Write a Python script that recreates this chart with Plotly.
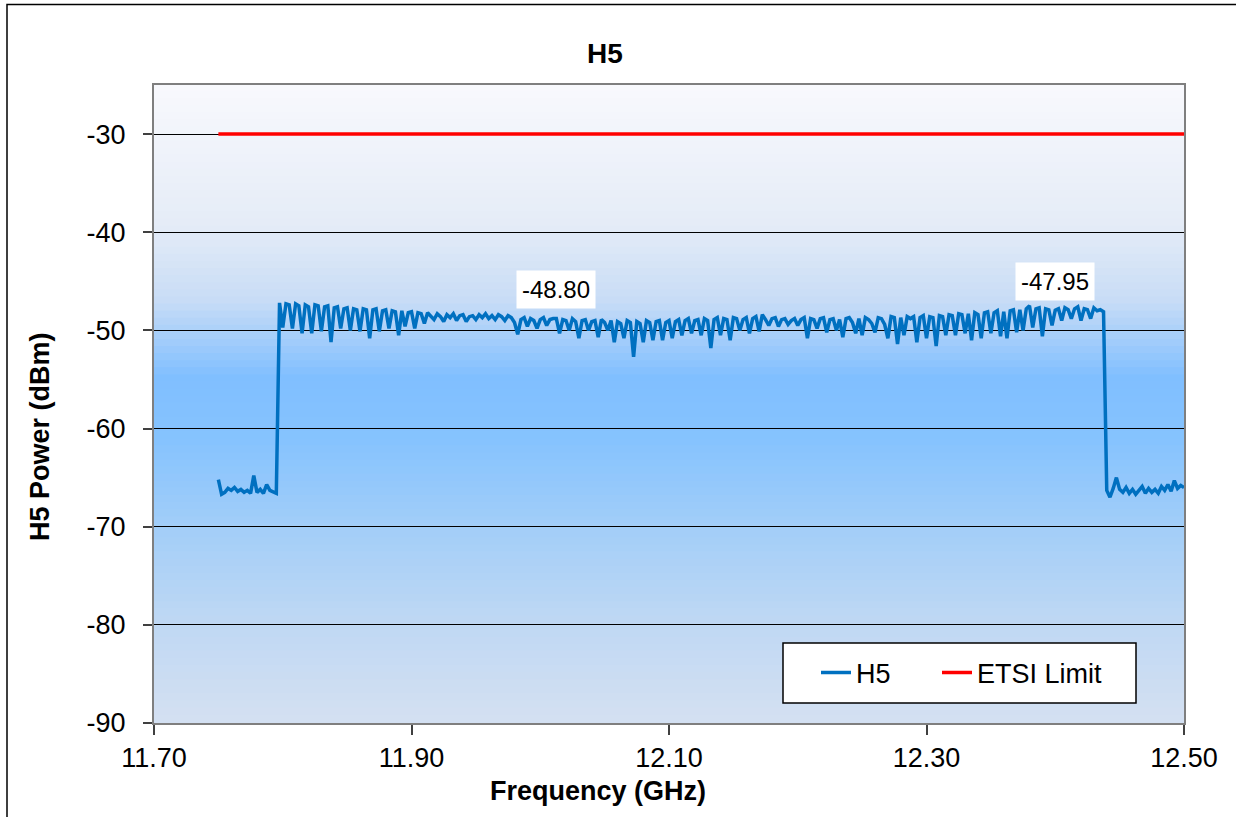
import plotly.graph_objects as go

# Sweep frequencies (GHz)
freq_ghz = [
    11.7500, 11.7525, 11.7550, 11.7575, 11.7600, 11.7625, 11.7650, 11.7675,
    11.7700, 11.7725, 11.7750, 11.7775, 11.7800, 11.7825, 11.7850, 11.7875,
    11.7900, 11.7925, 11.7950, 11.7975, 11.8000, 11.8025, 11.8050, 11.8075,
    11.8100, 11.8125, 11.8150, 11.8175, 11.8200, 11.8225, 11.8250, 11.8275,
    11.8300, 11.8325, 11.8350, 11.8375, 11.8400, 11.8425, 11.8450, 11.8475,
    11.8500, 11.8525, 11.8550, 11.8575, 11.8600, 11.8625, 11.8650, 11.8675,
    11.8700, 11.8725, 11.8750, 11.8775, 11.8800, 11.8825, 11.8850, 11.8875,
    11.8900, 11.8925, 11.8950, 11.8975, 11.9000, 11.9025, 11.9050, 11.9075,
    11.9100, 11.9125, 11.9150, 11.9175, 11.9200, 11.9225, 11.9250, 11.9275,
    11.9300, 11.9325, 11.9350, 11.9375, 11.9400, 11.9425, 11.9450, 11.9475,
    11.9500, 11.9525, 11.9550, 11.9575, 11.9600, 11.9625, 11.9650, 11.9675,
    11.9700, 11.9725, 11.9750, 11.9775, 11.9800, 11.9825, 11.9850, 11.9875,
    11.9900, 11.9925, 11.9950, 11.9975, 12.0000, 12.0025, 12.0050, 12.0075,
    12.0100, 12.0125, 12.0150, 12.0175, 12.0200, 12.0225, 12.0250, 12.0275,
    12.0300, 12.0325, 12.0350, 12.0375, 12.0400, 12.0425, 12.0450, 12.0475,
    12.0500, 12.0525, 12.0550, 12.0575, 12.0600, 12.0625, 12.0650, 12.0675,
    12.0700, 12.0725, 12.0750, 12.0775, 12.0800, 12.0825, 12.0850, 12.0875,
    12.0900, 12.0925, 12.0950, 12.0975, 12.1000, 12.1025, 12.1050, 12.1075,
    12.1100, 12.1125, 12.1150, 12.1175, 12.1200, 12.1225, 12.1250, 12.1275,
    12.1300, 12.1325, 12.1350, 12.1375, 12.1400, 12.1425, 12.1450, 12.1475,
    12.1500, 12.1525, 12.1550, 12.1575, 12.1600, 12.1625, 12.1650, 12.1675,
    12.1700, 12.1725, 12.1750, 12.1775, 12.1800, 12.1825, 12.1850, 12.1875,
    12.1900, 12.1925, 12.1950, 12.1975, 12.2000, 12.2025, 12.2050, 12.2075,
    12.2100, 12.2125, 12.2150, 12.2175, 12.2200, 12.2225, 12.2250, 12.2275,
    12.2300, 12.2325, 12.2350, 12.2375, 12.2400, 12.2425, 12.2450, 12.2475,
    12.2500, 12.2525, 12.2550, 12.2575, 12.2600, 12.2625, 12.2650, 12.2675,
    12.2700, 12.2725, 12.2750, 12.2775, 12.2800, 12.2825, 12.2850, 12.2875,
    12.2900, 12.2925, 12.2950, 12.2975, 12.3000, 12.3025, 12.3050, 12.3075,
    12.3100, 12.3125, 12.3150, 12.3175, 12.3200, 12.3225, 12.3250, 12.3275,
    12.3300, 12.3325, 12.3350, 12.3375, 12.3400, 12.3425, 12.3450, 12.3475,
    12.3500, 12.3525, 12.3550, 12.3575, 12.3600, 12.3625, 12.3650, 12.3675,
    12.3700, 12.3725, 12.3750, 12.3775, 12.3800, 12.3825, 12.3850, 12.3875,
    12.3900, 12.3925, 12.3950, 12.3975, 12.4000, 12.4025, 12.4050, 12.4075,
    12.4100, 12.4125, 12.4150, 12.4175, 12.4200, 12.4225, 12.4250, 12.4275,
    12.4300, 12.4325, 12.4350, 12.4375, 12.4400, 12.4425, 12.4450, 12.4475,
    12.4500, 12.4525, 12.4550, 12.4575, 12.4600, 12.4625, 12.4650, 12.4675,
    12.4700, 12.4725, 12.4750, 12.4775, 12.4800, 12.4825, 12.4850, 12.4875,
    12.4900, 12.4925, 12.4950, 12.4975, 12.5000,
]

h5_dbm = [
    -65.2, -66.7, -66.5, -66.1, -66.3, -66.0, -66.4, -66.2,
    -66.5, -66.3, -66.6, -64.8, -66.5, -66.2, -66.6, -65.7,
    -66.3, -66.5, -66.6, -47.2, -49.7, -47.3, -47.4, -49.8,
    -47.3, -47.5, -50.3, -47.4, -47.6, -50.3, -47.4, -47.5,
    -50.1, -47.6, -47.5, -51.2, -47.7, -47.6, -49.8, -47.8,
    -47.7, -50.0, -47.8, -47.9, -50.1, -47.8, -47.9, -50.8,
    -47.9, -47.8, -50.1, -48.0, -47.9, -49.8, -48.0, -48.1,
    -50.5, -48.0, -49.6, -48.2, -48.1, -49.8, -48.2, -48.3,
    -49.3, -48.2, -48.5, -48.9, -48.3, -48.6, -49.1, -48.4,
    -48.7, -48.3, -49.0, -48.5, -48.4, -49.1, -48.6, -48.5,
    -48.9, -48.4, -48.7, -48.3, -48.8, -48.5, -48.9, -48.4,
    -48.6, -49.0, -48.5, -48.7, -49.2, -50.4, -48.9, -48.7,
    -49.6, -48.8, -49.0, -49.8, -48.9, -48.7, -49.5, -48.9,
    -48.8, -48.8, -50.3, -48.9, -49.0, -50.0, -48.8, -49.1,
    -50.8, -49.0, -48.9, -50.0, -49.1, -49.0, -50.7, -48.9,
    -49.2, -50.0, -49.0, -51.2, -49.1, -49.3, -50.8, -49.0,
    -49.2, -52.7, -49.1, -49.3, -51.2, -49.0, -49.2, -51.0,
    -49.1, -49.0, -51.0, -49.2, -49.0, -50.8, -49.1, -48.9,
    -50.5, -49.0, -48.8, -50.3, -49.0, -48.9, -50.5, -48.8,
    -49.0, -51.8, -48.9, -48.7, -50.5, -48.8, -48.9, -51.0,
    -48.7, -48.8, -50.0, -48.9, -48.7, -50.3, -48.8, -48.6,
    -50.1, -48.4, -48.9, -49.5, -48.8, -48.7, -49.6, -48.9,
    -48.8, -49.4, -49.0, -48.8, -49.5, -48.9, -48.7, -50.8,
    -48.8, -48.9, -49.8, -48.8, -48.7, -50.2, -48.9, -48.8,
    -50.0, -48.9, -50.7, -48.8, -48.7, -49.2, -50.3, -48.8,
    -50.5, -48.7, -48.9, -49.3, -50.2, -48.7, -48.8, -49.4,
    -50.8, -48.6, -48.7, -51.4, -48.7, -50.5, -48.6, -48.8,
    -48.6, -51.2, -48.7, -48.5, -50.8, -48.6, -48.7, -51.6,
    -48.5, -48.6, -50.5, -48.4, -48.5, -50.5, -48.3, -48.4,
    -50.3, -48.3, -51.0, -48.2, -48.4, -50.8, -48.2, -48.1,
    -50.3, -48.2, -48.0, -50.6, -48.1, -50.8, -48.0, -47.9,
    -50.2, -47.9, -50.0, -47.8, -47.5, -49.7, -47.8, -47.7,
    -50.6, -47.8, -47.9, -49.5, -47.95, -47.8, -49.0, -47.7,
    -47.9, -48.8, -47.8, -47.6, -49.0, -47.8, -47.9, -48.8,
    -47.7, -48.0, -47.9, -48.1, -66.3, -67.0, -66.1, -65.0,
    -66.2, -66.5, -66.0, -66.6, -66.2, -66.7, -66.3, -65.9,
    -66.6, -66.1, -66.5, -66.2, -66.6, -65.9, -66.3, -65.7,
    -66.4, -65.3, -66.1, -65.8, -66.0,
]

# ETSI limit line
limit_freq = [11.75, 12.50]
limit_dbm = [-30, -30]

# Frequencies that carry a data label
label_freqs = [12.0125, 12.4000]

x_ticks = [11.70, 11.90, 12.10, 12.30, 12.50]
y_ticks = [-90, -80, -70, -60, -50, -40, -30]

FONT = "Liberation Sans, Arial, sans-serif"

fig = go.Figure()

fig.add_trace(go.Scatter(
    x=freq_ghz, y=h5_dbm, mode="lines", name="H5", legend="legend",
    line=dict(color="#0070C0", width=3.5),
))
fig.add_trace(go.Scatter(
    x=limit_freq, y=limit_dbm, mode="lines", name="ETSI Limit",
    legend="legend2", line=dict(color="#FF0000", width=3.5),
))

# data labels above the two marked points
for f in label_freqs:
    i = freq_ghz.index(f)
    fig.add_annotation(
        x=freq_ghz[i], y=h5_dbm[i], text=f"{h5_dbm[i]:.2f}",
        showarrow=False, yshift=29, bgcolor="white", borderpad=5,
        font=dict(size=24, color="black", family=FONT),
    )

# vertical gradient for the plot area (Excel style fill)
stops = [
    (0.00, (248, 249, 253)),
    (0.22, (229, 236, 247)),
    (0.34, (200, 220, 246)),
    (0.46, (128, 191, 255)),
    (0.56, (134, 195, 254)),
    (0.70, (163, 206, 248)),
    (0.85, (192, 216, 243)),
    (1.00, (212, 224, 242)),
]


def grad_color(t):
    for (t0, c0), (t1, c1) in zip(stops[:-1], stops[1:]):
        if t0 <= t <= t1:
            k = (t - t0) / (t1 - t0)
            rgb = [round(a + (b - a) * k) for a, b in zip(c0, c1)]
            return "rgb({},{},{})".format(*rgb)
    return "rgb({},{},{})".format(*stops[-1][1])


n_strips = 90
shapes = []
for k in range(n_strips):
    shapes.append(dict(
        type="rect", xref="x domain", yref="y domain", layer="below",
        x0=0, x1=1, y0=1 - (k + 1) / n_strips, y1=1 - k / n_strips + 0.002,
        fillcolor=grad_color((k + 0.5) / n_strips), line=dict(width=0),
    ))

# legend box
shapes.append(dict(
    type="rect", xref="paper", yref="paper", layer="above",
    x0=(783 - 154) / 1030, x1=(1136 - 154) / 1030,
    y0=(723 - 703) / 638, y1=(723 - 643) / 638,
    fillcolor="white", line=dict(color="black", width=1.5),
))
# outer chart border
shapes.append(dict(
    type="rect", xref="paper", yref="paper", layer="above",
    x0=(7 - 154) / 1030, x1=1.2, y0=-0.3, y1=(723 - 4.5) / 638,
    fillcolor="rgba(0,0,0,0)", line=dict(color="black", width=1.5),
))

legend_style = dict(
    orientation="h", xanchor="left", yanchor="middle",
    y=(723 - 673) / 638, bgcolor="rgba(0,0,0,0)", borderwidth=0,
    font=dict(size=27, family=FONT, color="black"),
)

fig.update_layout(
    width=1236, height=817,
    margin=dict(l=154, r=52, t=85, b=94),
    paper_bgcolor="white", plot_bgcolor="white",
    font=dict(family=FONT, size=28, color="black"),
    shapes=shapes,
    title=dict(text="<b>H5</b>", x=605 / 1236, xanchor="center",
               y=1 - 53 / 817, yanchor="middle",
               font=dict(size=28, family=FONT, color="black")),
    showlegend=True,
    legend=dict(x=(816 - 154) / 1030, **legend_style),
    legend2=dict(x=(937 - 154) / 1030, **legend_style),
)

fig.update_xaxes(
    range=[11.70, 12.50], tickvals=x_ticks,
    ticktext=[f"{v:.2f}" for v in x_ticks],
    showgrid=False, zeroline=False,
    ticks="outside", ticklen=10, tickwidth=1.5, tickcolor="#404040",
    showline=True, linecolor="#7f7f7f", linewidth=2, mirror=True,
    tickfont=dict(size=27), ticklabelstandoff=0,
)
fig.update_yaxes(
    range=[-90, -25], tickvals=y_ticks,
    ticktext=[str(v) for v in y_ticks],
    showgrid=True, gridcolor="black", gridwidth=1, zeroline=False,
    ticks="outside", ticklen=9, tickwidth=1.5, tickcolor="#404040",
    showline=True, linecolor="#7f7f7f", linewidth=2, mirror=True,
    tickfont=dict(size=27), ticklabelstandoff=12,
)

# axis titles
fig.add_annotation(
    text="<b>Frequency (GHz)</b>", xref="paper", yref="paper",
    x=(598 - 154) / 1030, y=(723 - 791) / 638, showarrow=False,
    xanchor="center", yanchor="middle", font=dict(size=27),
)
fig.add_annotation(
    text="<b>H5 Power (dBm)</b>", xref="paper", yref="paper",
    x=(40 - 154) / 1030, y=(723 - 437) / 638, showarrow=False,
    textangle=-90, xanchor="center", yanchor="middle", font=dict(size=27),
)

# the page body has a default 8px margin; drop it so the chart sits at 0,0
fig.write_html(
    "out.html",
    config={"displayModeBar": False},
    post_script="document.body.style.margin='0';",
)
